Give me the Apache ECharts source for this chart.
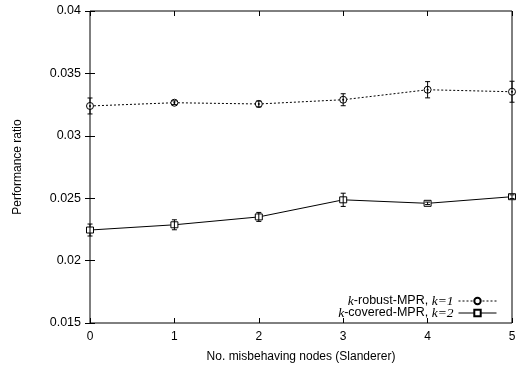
<!DOCTYPE html>
<html>
<head>
<meta charset="utf-8">
<script src="https://cdn.jsdelivr.net/npm/echarts@6/dist/echarts.min.js"></script>
<style>
  html, body { margin: 0; padding: 0; background: #fff; }
  #main { width: 528px; height: 368px; }
</style>
</head>
<body>
<div id="main"></div>
<script>
  // data
  var nodes = [0, 1, 2, 3, 4, 5];
  var robust = [0.03239, 0.03265, 0.03255, 0.03289, 0.03369, 0.03353];
  var robustErr = [0.00064, 0.00015, 0.00024, 0.00048, 0.00065, 0.00084];
  var covered = [0.02245, 0.02287, 0.02350, 0.02487, 0.02459, 0.02512];
  var coveredErr = [0.00048, 0.0004, 0.00036, 0.00053, 0.0001, 0.00015];
  var yTicks = [0.015, 0.02, 0.025, 0.03, 0.035, 0.04];

  function pairs(xs, ys) {
    return xs.map(function (x, i) { return [x, ys[i]]; });
  }
  function errData(xs, ys, es) {
    return xs.map(function (x, i) { return [x, ys[i] - es[i], ys[i] + es[i], ys[i]]; });
  }

  // error bar with caps plus the point marker (circle with dot, or square)
  function errBar(kind) {
    return function (params, api) {
      var lo = api.coord([api.value(0), api.value(1)]);
      var hi = api.coord([api.value(0), api.value(2)]);
      var mid = api.coord([api.value(0), api.value(3)]);
      var w = 2.5;
      var st = { stroke: '#000', lineWidth: 1, fill: null };
      var kids = [
        { type: 'line', shape: { x1: lo[0], y1: lo[1], x2: hi[0], y2: hi[1] }, style: st },
        { type: 'line', shape: { x1: lo[0] - w, y1: lo[1], x2: lo[0] + w, y2: lo[1] }, style: st },
        { type: 'line', shape: { x1: hi[0] - w, y1: hi[1], x2: hi[0] + w, y2: hi[1] }, style: st }
      ];
      if (kind === 'circle') {
        kids.push({ type: 'circle', shape: { cx: mid[0], cy: mid[1], r: 3.5 }, style: { stroke: '#000', lineWidth: 1, fill: '#fff' }, z2: -1 });
        kids.push({ type: 'circle', shape: { cx: mid[0], cy: mid[1], r: 1 }, style: { fill: '#000' } });
      } else {
        kids.push({ type: 'rect', shape: { x: mid[0] - 3.5, y: mid[1] - 3, width: 7, height: 6 }, style: { stroke: '#000', lineWidth: 1, fill: '#fff' }, z2: -1 });
      }
      return { type: 'group', children: kids };
    };
  }

  var myChart = echarts.init(document.getElementById('main'));
  var font = 'Liberation Sans, Arial, sans-serif';
  var option = {
    animation: false,
    backgroundColor: '#fff',
    grid: { left: 90, right: 16, top: 11, bottom: 44, show: true, borderColor: '#000', borderWidth: 1 },
    legend: {
      orient: 'vertical',
      right: 31,
      top: 294,
      align: 'right',
      itemGap: -2,
      itemWidth: 38,
      itemHeight: 8,
      padding: 0,
      itemStyle: { borderWidth: 1 },
      lineStyle: { width: 1 },
      textStyle: {
        fontFamily: font, fontSize: 12.5, color: '#000', lineHeight: 12,
        rich: {
          i: { fontFamily: 'Liberation Serif, Times New Roman, serif', fontStyle: 'italic', fontSize: 13.5, color: '#000', lineHeight: 12 },
          t: { fontFamily: font, fontSize: 12.5, color: '#000', lineHeight: 12 }
        }
      },
      data: ['robust', 'covered'],
      formatter: function (name) {
        if (name === 'robust') return '{i|k}{t|-robust-MPR, }{i|k=1}';
        return '{i|k}{t|-covered-MPR, }{i|k=2}';
      }
    },
    xAxis: [{
      type: 'value', min: 0, max: 5, interval: 1,
      name: 'No. misbehaving nodes (Slanderer)', nameLocation: 'middle', nameGap: 28,
      nameTextStyle: { fontFamily: font, fontSize: 12, color: '#000' },
      axisLine: { show: false },
      axisTick: { inside: true, length: 5, lineStyle: { color: '#000' } },
      axisLabel: { fontFamily: font, fontSize: 12, color: '#000', margin: 8 },
      splitLine: { show: false }
    }, {
      type: 'value', position: 'top', min: 0, max: 5, interval: 1,
      axisLine: { show: false },
      axisTick: { inside: true, length: 5, lineStyle: { color: '#000' } },
      axisLabel: { show: false }, splitLine: { show: false }
    }],
    yAxis: [{
      type: 'value', min: yTicks[0], max: yTicks[yTicks.length - 1], interval: 0.005,
      name: 'Performance ratio', nameLocation: 'middle', nameGap: 66,
      nameTextStyle: { fontFamily: font, fontSize: 12, color: '#000' },
      axisLine: { show: false },
      axisTick: { inside: true, length: 5, lineStyle: { color: '#000' } },
      axisLabel: {
        fontFamily: font, fontSize: 12.5, color: '#000', margin: 9,
        formatter: function (v) { return String(+v.toFixed(4)); }
      },
      splitLine: { show: false }
    }, {
      type: 'value', position: 'right', min: yTicks[0], max: yTicks[yTicks.length - 1], interval: 0.005,
      axisLine: { show: false },
      axisTick: { inside: true, length: 5, lineStyle: { color: '#000' } },
      axisLabel: { show: false }, splitLine: { show: false }
    }],
    series: [
      {
        name: 'robust', type: 'line', data: pairs(nodes, robust),
        symbol: 'emptyCircle', symbolSize: 7, showSymbol: false, color: '#000',
        lineStyle: { color: '#000', width: 1, type: [2, 2] },
        itemStyle: { color: '#000', borderWidth: 1 },
        z: 3
      },
      {
        name: 'covered', type: 'line', data: pairs(nodes, covered),
        symbol: 'emptyRect', symbolSize: 7, showSymbol: false, color: '#000',
        lineStyle: { color: '#000', width: 1 },
        itemStyle: { color: '#000', borderWidth: 1 },
        z: 3
      },
      {
        type: 'custom', renderItem: errBar('circle'), data: errData(nodes, robust, robustErr),
        encode: { x: 0, y: [1, 2] }, z: 4, silent: true
      },
      {
        type: 'custom', renderItem: errBar('rect'), data: errData(nodes, covered, coveredErr),
        encode: { x: 0, y: [1, 2] }, z: 4, silent: true
      }
    ]
  };
  myChart.setOption(option);
</script>
</body>
</html>
